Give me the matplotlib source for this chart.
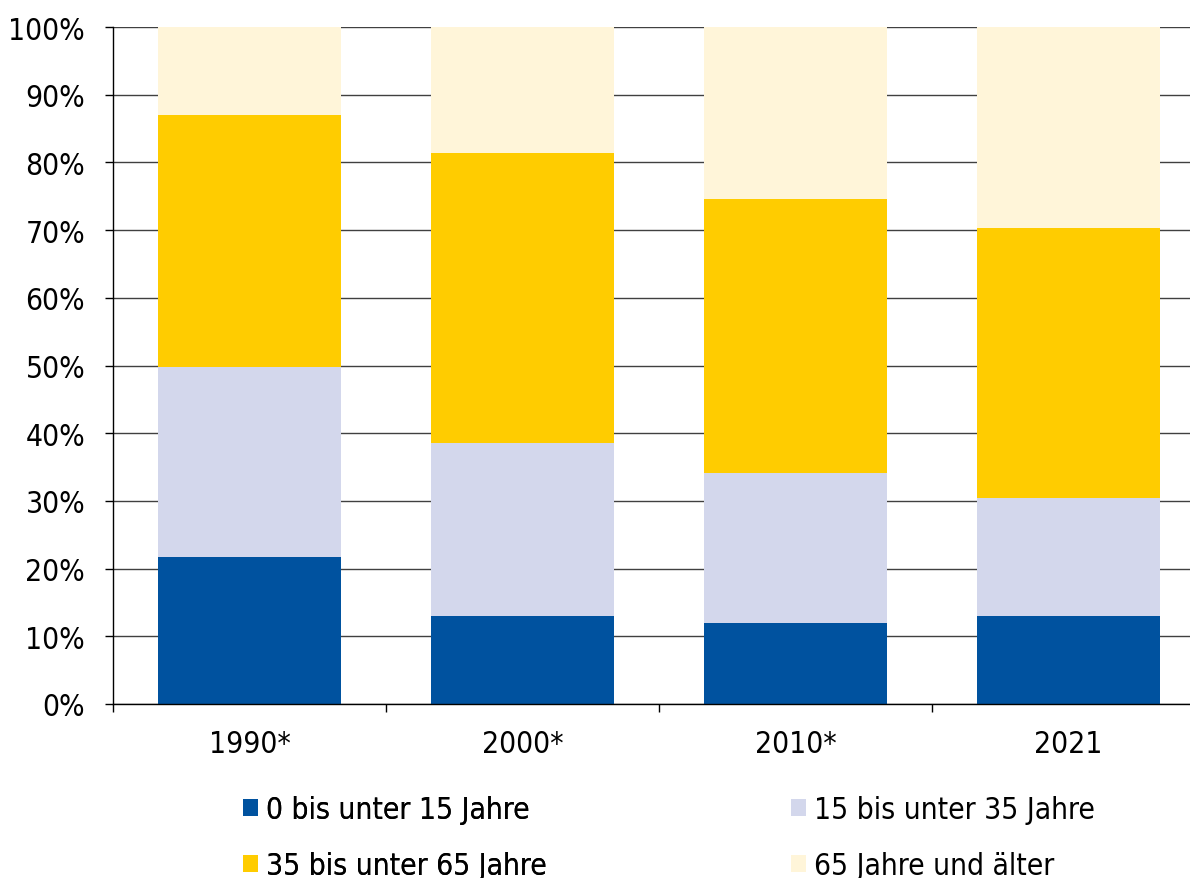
import matplotlib.pyplot as plt
from matplotlib.patches import Patch
from matplotlib.ticker import PercentFormatter, FixedLocator, NullFormatter

years = ['1990*', '2000*', '2010*', '2021']
groups = ['0 bis unter 15 Jahre', '15 bis unter 35 Jahre',
          '35 bis unter 65 Jahre', '65 Jahre und älter']
# shares in percent
age_0_15 = [21.7, 13.0, 12.0, 13.0]
age_15_35 = [28.1, 25.6, 22.1, 17.4]
age_35_65 = [37.2, 42.8, 40.5, 39.9]
age_65_plus = [13.0, 18.6, 25.4, 29.7]
colors = ['#00529F', '#D3D7EC', '#FFCC00', '#FFF5D9']

plt.rcParams['font.family'] = ['DejaVu Sans']
plt.rcParams['font.stretch'] = 'condensed'
FS = 21.5

fig = plt.figure(figsize=(11.9, 8.79), dpi=100)
ax = fig.add_axes([113 / 1190, 174 / 879, 1092 / 1190, 677 / 879])

series = [age_0_15, age_15_35, age_35_65, age_65_plus]
x = range(len(years))
bottom = [0.0] * len(years)
handles = []
for vals, col, lab in zip(series, colors, groups):
    ax.bar(x, vals, width=0.667, bottom=bottom, color=col, zorder=2)
    bottom = [b + v for b, v in zip(bottom, vals)]
    handles.append(Patch(facecolor=col, label=lab))

ax.set_xlim(-0.5, 3.5)
ax.set_ylim(0, 100)
ax.set_yticks(range(0, 101, 10))
ax.yaxis.set_major_formatter(PercentFormatter(decimals=0))
ax.yaxis.grid(True, color='#404040', lw=1.0, zorder=1)
ax.set_axisbelow(True)

ax.set_xticks(list(x))
ax.set_xticklabels(years)
ax.xaxis.set_minor_locator(FixedLocator([-0.5, 0.5, 1.5, 2.5, 3.5]))
ax.xaxis.set_minor_formatter(NullFormatter())
ax.tick_params(axis='x', which='major', length=0, pad=18, labelsize=FS)
ax.tick_params(axis='x', which='minor', length=6, width=1, direction='out')
ax.tick_params(axis='y', length=6, width=1, direction='out', labelsize=FS, pad=14)

for s in ['top', 'right']:
    ax.spines[s].set_visible(False)
for s in ['left', 'bottom']:
    ax.spines[s].set_color('black')
    ax.spines[s].set_linewidth(1)

# legend as two columns placed separately
leg_kw = dict(loc='upper left', frameon=False, fontsize=FS, handlelength=0.5,
              handleheight=0.5, handletextpad=0.27, labelspacing=0.92,
              borderpad=0, borderaxespad=0)
leg1 = fig.legend([handles[0], handles[2]], [groups[0], groups[2]],
                  bbox_to_anchor=(243 / 1190, 1 - 796 / 879), **leg_kw)
fig.add_artist(leg1)
fig.legend([handles[1], handles[3]], [groups[1], groups[3]],
           bbox_to_anchor=(791 / 1190, 1 - 796 / 879), **leg_kw)

fig.savefig('out.png', dpi=100)
